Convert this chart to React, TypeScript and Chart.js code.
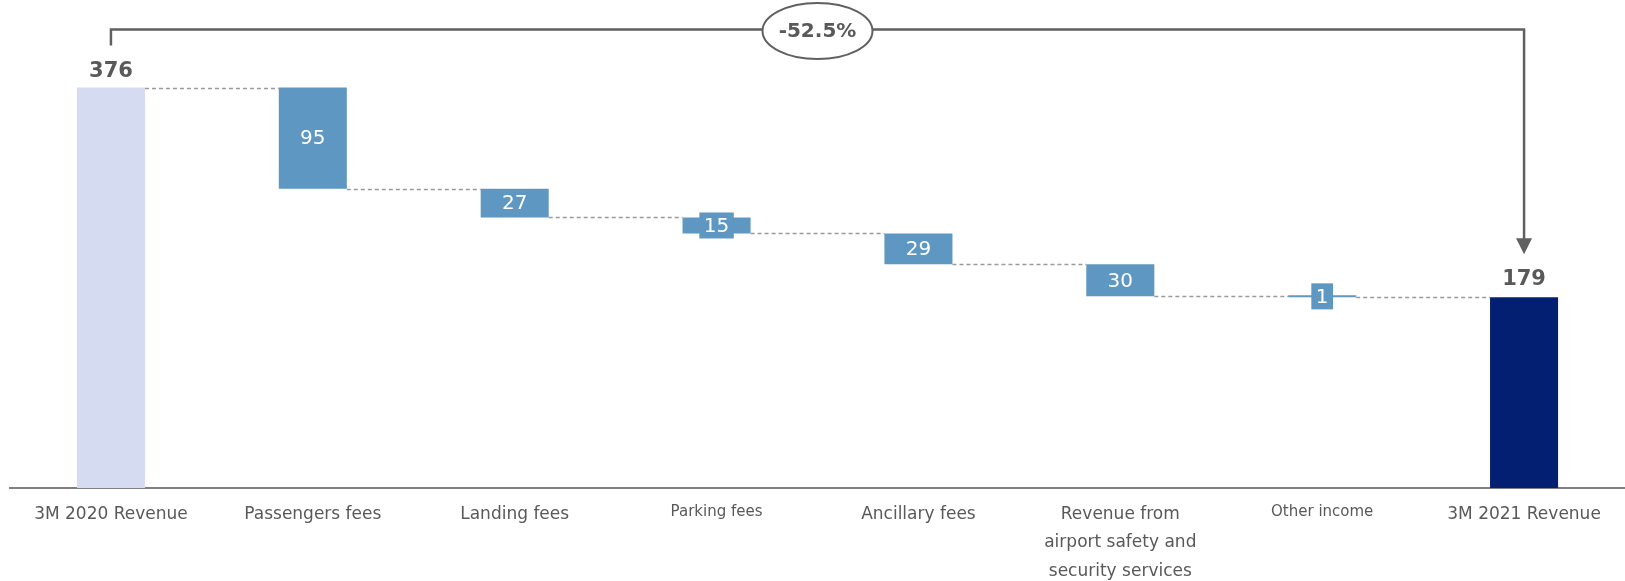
import React, { useEffect, useRef } from "react";
import { Chart, registerables } from "chart.js";

Chart.register(...registerables);

const categories: (string | string[])[] = [
  "3M 2020 Revenue",
  "Passengers fees",
  "Landing fees",
  "Parking fees",
  "Ancillary fees",
  ["Revenue from", "airport safety and", "security services"],
  "Other income",
  "3M 2021 Revenue",
];
const startRevenue = 376;
const changes = [-95, -27, -15, -29, -30, -1];
const endRevenue = 179;
const changeLabel = "-52.5%";
const smallLabelIndexes = [3, 6];

const FONT = "'DejaVu Sans', sans-serif";
const TEXT = "#595959";
const START_COLOR = "#D5DBF0";
const STEP_COLOR = "#5E97C1";
const END_COLOR = "#031F72";

export default function App() {
  const ref = useRef<HTMLCanvasElement | null>(null);

  useEffect(() => {
    if (!ref.current) return;
    const floating: [number, number][] = [[0, startRevenue]];
    const levels: number[] = [startRevenue];
    let running = startRevenue;
    changes.forEach((c) => {
      const next = running + c;
      floating.push([Math.min(running, next), Math.max(running, next)]);
      running = next;
      levels.push(running);
    });
    floating.push([0, endRevenue]);
    const colors = [START_COLOR, ...changes.map(() => STEP_COLOR), END_COLOR];

    const overlay = {
      id: "waterfallOverlay",
      afterDatasetsDraw(chart: any) {
        const ctx = chart.ctx;
        const meta = chart.getDatasetMeta(0);
        const ys = chart.scales.y;
        const bars = meta.data;
        ctx.save();
        // connectors
        ctx.strokeStyle = "#9a9a9a";
        ctx.lineWidth = 1.5;
        ctx.setLineDash([4, 3]);
        for (let i = 0; i < bars.length - 1; i++) {
          const y = Math.round(ys.getPixelForValue(levels[i])) + 0.5;
          const x1 = bars[i].x + bars[i].width / 2;
          const x2 = bars[i + 1].x - bars[i + 1].width / 2;
          ctx.beginPath();
          ctx.moveTo(x1, y);
          ctx.lineTo(x2, y);
          ctx.stroke();
        }
        ctx.setLineDash([]);
        // step labels
        ctx.font = `20px ${FONT}`;
        ctx.textAlign = "center";
        ctx.textBaseline = "middle";
        changes.forEach((c, k) => {
          const b = bars[k + 1];
          const cy = (b.y + b.base) / 2;
          const txt = String(Math.abs(c));
          const w = ctx.measureText(txt).width + 9;
          const h = 26;
          ctx.fillStyle = STEP_COLOR;
          ctx.fillRect(b.x - w / 2, cy - h / 2, w, h);
          ctx.fillStyle = "#ffffff";
          ctx.fillText(txt, b.x, cy + 1);
        });
        // totals
        ctx.font = `bold 21px ${FONT}`;
        ctx.fillStyle = TEXT;
        ctx.textBaseline = "alphabetic";
        const first = bars[0];
        const last = bars[bars.length - 1];
        ctx.fillText(String(startRevenue), first.x, first.y - 11);
        ctx.fillText(String(endRevenue), last.x, last.y - 12);
        // bracket
        const topY = 29.5;
        const stroke = "#606060";
        ctx.strokeStyle = stroke;
        ctx.lineWidth = 2.5;
        ctx.beginPath();
        ctx.moveTo(first.x, first.y - 42);
        ctx.lineTo(first.x, topY);
        ctx.lineTo(last.x, topY);
        ctx.lineTo(last.x, last.y - 58);
        ctx.stroke();
        ctx.fillStyle = stroke;
        ctx.beginPath();
        ctx.moveTo(last.x - 8, last.y - 59);
        ctx.lineTo(last.x + 8, last.y - 59);
        ctx.lineTo(last.x, last.y - 43);
        ctx.closePath();
        ctx.fill();
        // ellipse
        const mx = (first.x + last.x) / 2;
        ctx.beginPath();
        ctx.ellipse(mx, 31, 55, 28, 0, 0, Math.PI * 2);
        ctx.fillStyle = "#ffffff";
        ctx.fill();
        ctx.lineWidth = 2;
        ctx.strokeStyle = stroke;
        ctx.stroke();
        ctx.font = `bold 20px ${FONT}`;
        ctx.fillStyle = TEXT;
        ctx.textBaseline = "middle";
        ctx.fillText(changeLabel, mx, 32);
        ctx.restore();
      },
    };

    const chart = new Chart(ref.current, {
      type: "bar",
      data: {
        labels: categories,
        datasets: [
          {
            data: floating as any,
            backgroundColor: colors,
            barPercentage: 1,
            categoryPercentage: 0.337,
            borderSkipped: false,
            minBarLength: 2,
          },
        ],
      },
      options: {
        animation: false,
        responsive: true,
        maintainAspectRatio: false,
        layout: { padding: { top: 62, left: 10, right: 0, bottom: 0 } },
        plugins: { legend: { display: false }, tooltip: { enabled: false } },
        scales: {
          y: { display: false, min: 0, max: 400 },
          x: {
            afterFit: (scale: any) => {
              scale.height = 93;
            },
            grid: { display: false, drawTicks: false },
            border: { display: true, color: "#7f7f7f", width: 2 },
            ticks: {
              autoSkip: false,
              maxRotation: 0,
              color: TEXT,
              padding: 12,
              font: (c: any) => ({
                family: FONT,
                size: smallLabelIndexes.includes(c.index) ? 15 : 17,
                lineHeight: 1.68,
              }),
            },
          },
        },
      },
      plugins: [overlay],
    });
    return () => chart.destroy();
  }, []);

  return (
    <div style={{ position: "absolute", left: 0, top: 0, width: 1625, height: 581 }}>
      <canvas ref={ref} />
    </div>
  );
}
